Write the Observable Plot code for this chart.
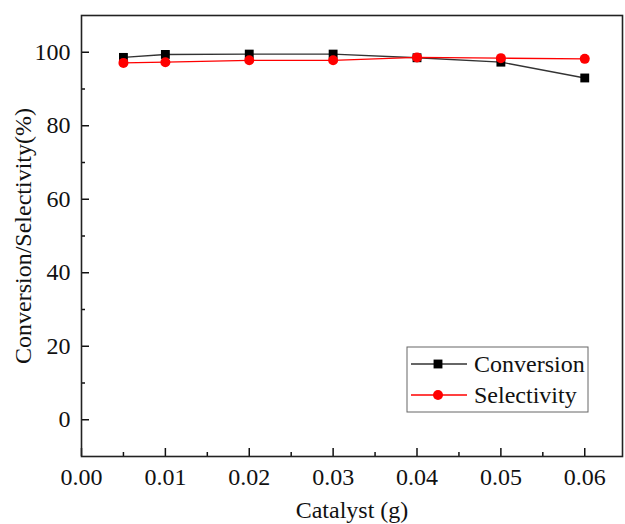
<!DOCTYPE html>
<html>
<head>
<meta charset="utf-8">
<script src="https://cdn.jsdelivr.net/npm/d3@7"></script>
<script src="https://cdn.jsdelivr.net/npm/@observablehq/plot@0.6"></script>
<style>
  html, body { margin: 0; padding: 0; background: #fff; }
  #chart svg { display: block; font-family: "Liberation Serif", "Times New Roman", serif; }
</style>
</head>
<body>
<div id="chart"></div>
<script>
const catalyst = [0.005, 0.01, 0.02, 0.03, 0.04, 0.05, 0.06];
const conversion = [98.6, 99.4, 99.5, 99.5, 98.5, 97.3, 93.0];
const selectivity = [97.1, 97.3, 97.8, 97.8, 98.6, 98.4, 98.2];
const seriesNames = ["Conversion", "Selectivity"];
const xMajorTicks = [0, 0.01, 0.02, 0.03, 0.04, 0.05, 0.06];
const xMinorTicks = [0.005, 0.015, 0.025, 0.035, 0.045, 0.055];
const yMajorTicks = [0, 20, 40, 60, 80, 100];
const yMinorTicks = [10, 30, 50, 70, 90];
const xLabel = "Catalyst (g)";
const yLabel = "Conversion/Selectivity(%)";

const styles = {
  Conversion: {line: "#333333", marker: "#000000", symbol: "square"},
  Selectivity: {line: "#ff0000", marker: "#ff0000", symbol: "circle"}
};

const rows = [];
catalyst.forEach((c, i) => {
  rows.push({series: "Conversion", x: c, y: conversion[i]});
});
catalyst.forEach((c, i) => {
  rows.push({series: "Selectivity", x: c, y: selectivity[i]});
});

const fontSize = 24;

function legendMark(index, scales, values, dimensions) {
  const g = d3.create("svg:g");
  const right = dimensions.width - dimensions.marginRight - 34;
  const bottom = dimensions.height - dimensions.marginBottom - 44;
  const boxW = 181, boxH = 65;
  const left = right - boxW, top = bottom - boxH;
  g.append("rect")
    .attr("x", left).attr("y", top)
    .attr("width", boxW).attr("height", boxH)
    .attr("fill", "white").attr("stroke", "#666").attr("stroke-width", 1);
  seriesNames.forEach((name, i) => {
    const s = styles[name];
    const cy = top + 17 + i * 31;
    g.append("line")
      .attr("x1", left + 4).attr("x2", left + 60)
      .attr("y1", cy).attr("y2", cy)
      .attr("stroke", s.line).attr("stroke-width", 1.4);
    const sym = s.symbol === "square" ? d3.symbolSquare : d3.symbolCircle;
    g.append("path")
      .attr("d", d3.symbol(sym, Math.PI * 25)())
      .attr("transform", `translate(${left + 31},${cy})`)
      .attr("fill", s.marker);
    g.append("text")
      .attr("x", left + 67).attr("y", cy)
      .attr("dy", "0.32em")
      .attr("text-anchor", "start")
      .attr("font-size", fontSize)
      .attr("fill", "#111")
      .text(name);
  });
  return g.node();
}

const chart = Plot.plot({
  width: 625,
  height: 524,
  marginLeft: 81,
  marginRight: 3,
  marginTop: 15,
  marginBottom: 68,
  style: {fontFamily: "'Liberation Serif', 'Times New Roman', serif", fontSize: fontSize + "px", color: "#111", background: "white"},
  x: {domain: [0, 0.0645]},
  y: {domain: [-10, 110]},
  marks: [
    Plot.axisX({ticks: xMajorTicks, tickSize: -8, tickPadding: 19, tickFormat: d3.format(".2f"), label: null, fontSize: fontSize, strokeWidth: 1.5}),
    Plot.axisX({ticks: xMinorTicks, tickSize: -4, tickPadding: 0, tickFormat: () => "", label: null, strokeWidth: 1.5}),
    Plot.axisY({ticks: yMajorTicks, tickSize: -8, tickPadding: 19, tickFormat: d3.format("d"), label: null, fontSize: fontSize, strokeWidth: 1.5}),
    Plot.axisY({ticks: yMinorTicks, tickSize: -4, tickPadding: 0, tickFormat: () => "", label: null, strokeWidth: 1.5}),
    Plot.frame({stroke: "#222", strokeWidth: 1.6}),
    Plot.line(rows.filter(d => d.series === "Conversion"), {x: "x", y: "y", stroke: styles.Conversion.line, strokeWidth: 1.4}),
    Plot.dot(rows.filter(d => d.series === "Conversion"), {x: "x", y: "y", symbol: "square", r: 5, fill: styles.Conversion.marker}),
    Plot.line(rows.filter(d => d.series === "Selectivity"), {x: "x", y: "y", stroke: styles.Selectivity.line, strokeWidth: 1.4}),
    Plot.dot(rows.filter(d => d.series === "Selectivity"), {x: "x", y: "y", symbol: "circle", r: 5, fill: styles.Selectivity.marker}),
    Plot.text([xLabel], {text: d => d, frameAnchor: "bottom", dy: 54, lineAnchor: "middle", textAnchor: "middle", fontSize: fontSize, fill: "#111"}),
    Plot.text([yLabel], {text: d => d, frameAnchor: "left", dx: -58, rotate: -90, lineAnchor: "middle", textAnchor: "middle", fontSize: fontSize, fill: "#111"}),
    legendMark
  ]
});
document.getElementById("chart").appendChild(chart);
</script>
</body>
</html>
